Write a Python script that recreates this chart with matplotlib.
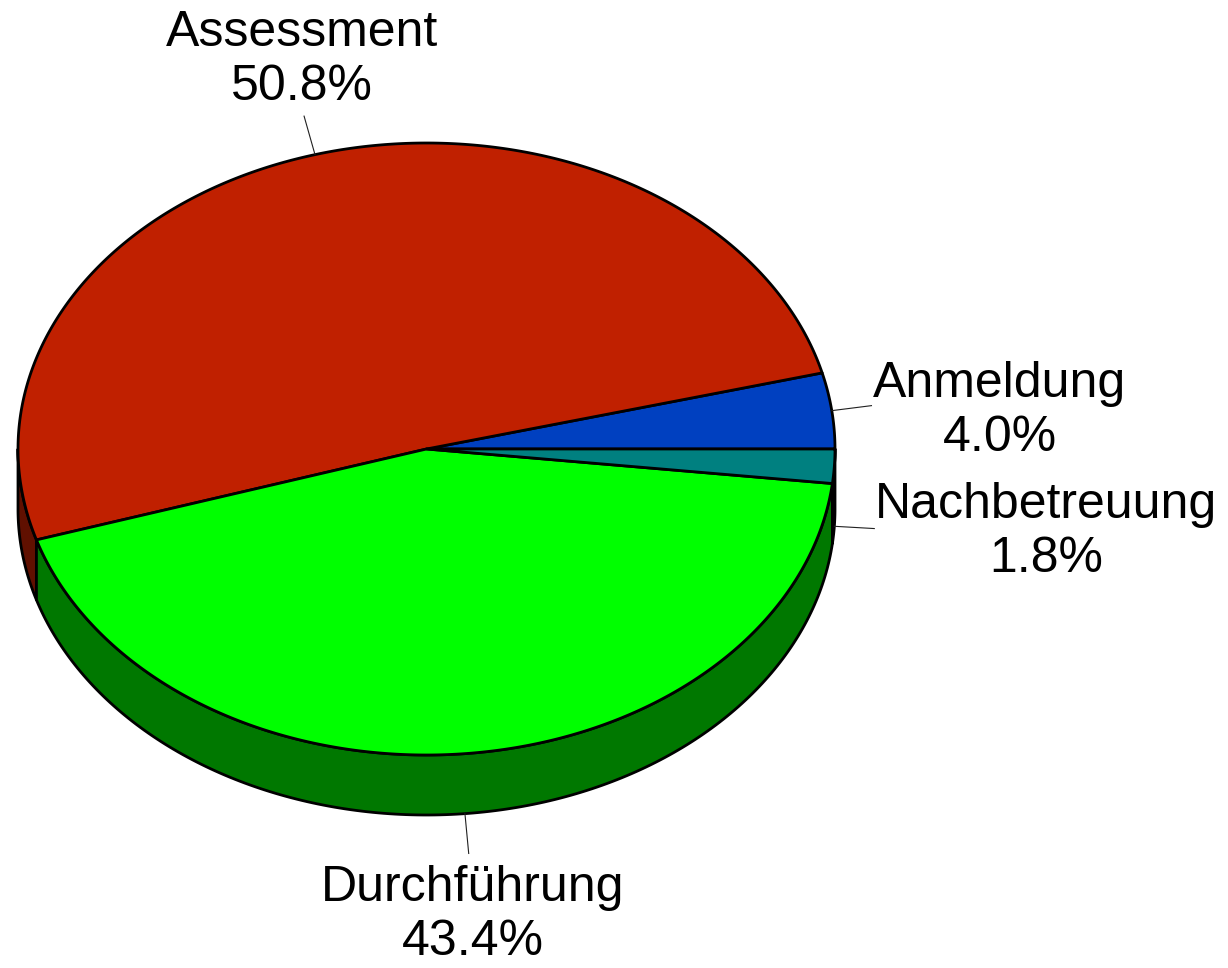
import numpy as np
import matplotlib
matplotlib.use('Agg')
import matplotlib.pyplot as plt
from matplotlib.patches import Polygon

plt.rcParams['font.family'] = ['Liberation Sans', 'DejaVu Sans']

# Daten
labels = ['Anmeldung', 'Assessment', 'Durchführung', 'Nachbetreuung']
values = [4.0, 50.8, 43.4, 1.8]
top_colors = ['#0040C0', '#C02000', '#00FF00', '#008080']
side_colors = ['#002080', '#601000', '#007800', '#004848']

# Geometrie (Pixel)
cx, cy = 426.5, 449
rx, ry = 408.5, 306
depth = 60

# Textpositionen der Beschriftungen
label_pos = [(1000, 411), (302, 60), (473, 915), (1046, 532)]

fig = plt.figure(figsize=(12.28, 9.68), dpi=100)
ax = fig.add_axes([0, 0, 1, 1])
ax.set_xlim(0, 1228)
ax.set_ylim(968, 0)
ax.axis('off')


def ell(a, dy=0, grow=0):
    a = np.radians(a)
    return cx + (rx + grow) * np.cos(a), cy - (ry + grow) * np.sin(a) + dy


total = sum(values)
starts = np.concatenate([[0], np.cumsum(values)[:-1]]) / total * 360
ends = np.cumsum(values) / total * 360

# Seitenflächen (nur vorderer Teil, 180..360 Grad)
for s, e, sc in zip(starts, ends, side_colors):
    lo, hi = max(s, 180), min(e, 360)
    if hi <= lo:
        continue
    t = np.linspace(lo, hi, 200)
    xt, yt = ell(t)
    xb, yb = ell(t[::-1], dy=depth)
    pts = np.column_stack([np.concatenate([xt, xb]), np.concatenate([yt, yb])])
    ax.add_patch(Polygon(pts, closed=True, facecolor=sc, edgecolor='black',
                         linewidth=2.0, joinstyle='round'))

# Deckflächen
for s, e, tc in zip(starts, ends, top_colors):
    t = np.linspace(s, e, 300)
    xt, yt = ell(t)
    pts = np.column_stack([np.concatenate([[cx], xt]), np.concatenate([[cy], yt])])
    ax.add_patch(Polygon(pts, closed=True, facecolor=tc, edgecolor='black',
                         linewidth=2.0, joinstyle='round'))

# Beschriftungen mit Führungslinien
for s, e, lab, v, (lx, ly) in zip(starts, ends, labels, values, label_pos):
    m = (s + e) / 2
    dy = depth if 180 < m < 360 else 0
    x0, y0 = ell(m, dy=dy)
    x1, y1 = ell(m, dy=dy, grow=40)
    ax.plot([x0, x1], [y0, y1], color='#202020', linewidth=0.8)
    ax.text(lx, ly, f'{lab}\n{v:.1f}%', ha='center', va='center',
            fontsize=36, linespacing=1.22)

fig.savefig('out.png', dpi=100)
